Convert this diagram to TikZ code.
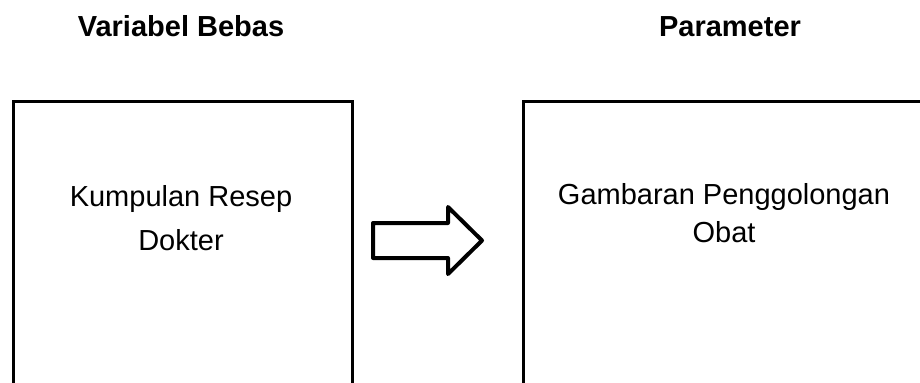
\documentclass[tikz,border=0pt]{standalone}
\usepackage{fontspec}
\setmainfont{Liberation Sans}
\usetikzlibrary{positioning}
\tikzset{
  headtext/.style={font=\bfseries\fontsize{14.5}{17}\selectfont, anchor=base},
  bodytext/.style={font=\fontsize{14.5}{22}\selectfont, align=center},
  framebox/.style={draw, line width=1.3pt, anchor=north west, inner sep=0pt},
  blockarrow/.style={draw, line width=2pt, line join=round}
}
\begin{document}
\begin{tikzpicture}[x=0.5pt,y=-0.5pt]
  \useasboundingbox (0,0) rectangle (920,382);
  \clip (0,0) rectangle (920,382);

  % headings
  \node [headtext] (hbebas) at (181,36) {Variabel Bebas};
  \node [headtext] (hparam) at (730,36) {Parameter};

  % boxes, running off the page at the bottom
  \node [framebox, minimum width=169.5pt, minimum height=160pt] (bebas) at (12,100) {};
  \node [framebox, minimum width=220pt, minimum height=160pt] (param) at (522,100) {};

  \node [bodytext] (resep) at (181,218.5) {Kumpulan Resep\\Dokter};
  \node [bodytext, font=\fontsize{14.5}{19}\selectfont] (obat) at (724,213.5) {Gambaran Penggolongan\\Obat};

  % block arrow
  \coordinate (arrowtail) at (373,223);
  \draw [blockarrow] (arrowtail) -- ++(75,0) -- ++(0,-16) -- ++(34,33.5) -- ++(-34,33.5) -- ++(0,-16) -- ++(-75,0) -- cycle;

\end{tikzpicture}
\end{document}
